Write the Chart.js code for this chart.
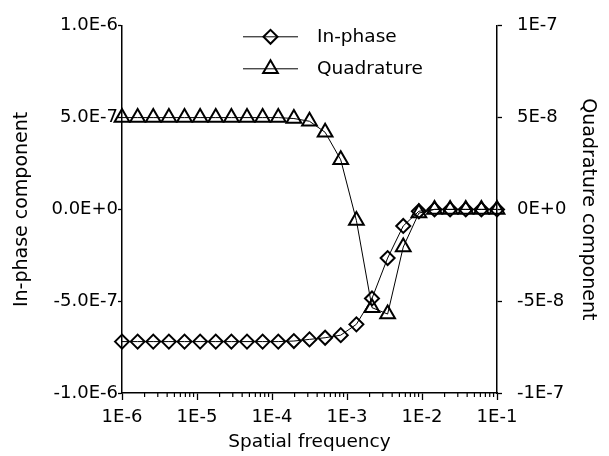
<!DOCTYPE html>
<html><head><meta charset="utf-8">
<script src="https://cdn.jsdelivr.net/npm/chart.js@4/dist/chart.umd.min.js"></script>
<style>html,body{margin:0;padding:0;background:#fff;}#wrap{width:609px;height:456px;}</style>
</head><body><div id="wrap"><canvas id="c" width="609" height="456"></canvas></div>
<script>
// ---- data ----
const frequency = [1.000e-6, 1.616e-6, 2.610e-6, 4.217e-6, 6.813e-6,
  1.101e-5, 1.778e-5, 2.873e-5, 4.642e-5, 7.499e-5,
  1.212e-4, 1.957e-4, 3.162e-4, 5.109e-4, 8.254e-4,
  1.334e-3, 2.154e-3, 3.481e-3, 5.623e-3, 9.085e-3,
  1.468e-2, 2.371e-2, 3.831e-2, 6.190e-2, 1.000e-1];
const inPhase = [-7.2e-7, -7.2e-7, -7.2e-7, -7.2e-7, -7.2e-7,
  -7.2e-7, -7.2e-7, -7.2e-7, -7.2e-7, -7.2e-7,
  -7.2e-7, -7.17e-7, -7.08e-7, -6.99e-7, -6.85e-7,
  -6.26e-7, -4.85e-7, -2.65e-7, -0.9e-7, -0.1e-7,
  0, 0, 0, 0, 0];
const quadrature = [5.0e-8, 5.0e-8, 5.0e-8, 5.0e-8, 5.0e-8,
  5.0e-8, 5.0e-8, 5.0e-8, 5.0e-8, 5.0e-8,
  5.0e-8, 4.95e-8, 4.8e-8, 4.2e-8, 2.7e-8,
  -0.6e-8, -5.35e-8, -5.7e-8, -2.05e-8, -0.2e-8,
  0, 0, 0, 0, 0];
const seriesNames = ["In-phase", "Quadrature"];
const xTickValues = [1e-6, 1e-5, 1e-4, 1e-3, 1e-2, 1e-1];
const xTickLabels = ["1E-6", "1E-5", "1E-4", "1E-3", "1E-2", "1E-1"];
const minorMultipliers = [2, 3, 4, 5, 6, 7, 8, 9];
const leftTickValues = [-1e-6, -5e-7, 0, 5e-7, 1e-6];
const leftTickLabels = ["-1.0E-6", "-5.0E-7", "0.0E+0", "5.0E-7", "1.0E-6"];
const rightTickValues = [-1e-7, -5e-8, 0, 5e-8, 1e-7];
const rightTickLabels = ["-1E-7", "-5E-8", "0E+0", "5E-8", "1E-7"];
const axisTitles = {x: "Spatial frequency", y: "In-phase component", y2: "Quadrature component"};

// ---- chart ----
const FONT = "'DejaVu Sans', sans-serif";
const INK = '#000';

const minorTicks = {
  id: 'minorTicks',
  afterDraw(chart) {
    const s = chart.scales.x, ctx = chart.ctx;
    ctx.save();
    ctx.strokeStyle = INK; ctx.lineWidth = 1.2;
    for (let k = 0; k < xTickValues.length - 1; k++) {
      minorMultipliers.forEach(m => {
        const px = s.getPixelForValue(xTickValues[k] * m);
        ctx.beginPath(); ctx.moveTo(px, s.top); ctx.lineTo(px, s.top + 4); ctx.stroke();
      });
    }
    ctx.restore();
  }
};

function drawMarker(ctx, style, r, x, y) {
  if (Chart.helpers && Chart.helpers.drawPoint) {
    Chart.helpers.drawPoint(ctx, {pointStyle: style, radius: r, rotation: 0, borderWidth: 2}, x, y);
    return;
  }
  ctx.beginPath();
  if (style === 'rectRot') {
    ctx.moveTo(x, y - r); ctx.lineTo(x + r, y); ctx.lineTo(x, y + r); ctx.lineTo(x - r, y); ctx.closePath();
  } else {
    ctx.moveTo(x, y - r); ctx.lineTo(x + r * 0.866, y + r / 2); ctx.lineTo(x - r * 0.866, y + r / 2); ctx.closePath();
  }
  ctx.stroke();
}

const lineLegend = {
  id: 'lineLegend',
  afterDraw(chart) {
    const ca = chart.chartArea, ctx = chart.ctx;
    ctx.save();
    chart.data.datasets.forEach((ds, i) => {
      const y = ca.top + 11 + i * 32;
      const x0 = ca.left + 121, x1 = x0 + 55, xm = (x0 + x1) / 2;
      ctx.strokeStyle = INK; ctx.lineWidth = 1;
      ctx.beginPath(); ctx.moveTo(x0, y); ctx.lineTo(x1, y); ctx.stroke();
      ctx.lineWidth = 2; ctx.fillStyle = 'rgba(0,0,0,0)';
      drawMarker(ctx, ds.pointStyle, ds.pointRadius, xm, y);
      ctx.fillStyle = INK;
      ctx.font = "18.5px " + FONT;
      ctx.textBaseline = 'middle'; ctx.textAlign = 'left';
      ctx.fillText(ds.label, x1 + 19, y);
    });
    ctx.restore();
  }
};

const tickFont = {family: FONT, size: 18};

new Chart(document.getElementById('c'), {
  type: 'line',
  data: {
    datasets: [
      {label: seriesNames[0], data: frequency.map((f, i) => ({x: f, y: inPhase[i]})), yAxisID: 'y',
       borderColor: INK, borderWidth: 1, pointStyle: 'rectRot', pointRadius: 7, pointBorderWidth: 2,
       pointBorderColor: INK, pointBackgroundColor: 'rgba(0,0,0,0)', tension: 0, clip: false},
      {label: seriesNames[1], data: frequency.map((f, i) => ({x: f, y: quadrature[i]})), yAxisID: 'y2',
       borderColor: INK, borderWidth: 1, pointStyle: 'triangle', pointRadius: 8.5, pointBorderWidth: 2,
       pointBorderColor: INK, pointBackgroundColor: 'rgba(0,0,0,0)', tension: 0, clip: false}
    ]
  },
  options: {
    responsive: false, animation: false, devicePixelRatio: 1,
    layout: {padding: {top: 20, left: 0, right: 0, bottom: 0}},
    plugins: {legend: {display: false}, tooltip: {enabled: false}},
    scales: {
      x: {
        type: 'logarithmic', position: 'bottom', min: 1e-6, max: 1e-1,
        afterBuildTicks: s => { s.ticks = xTickValues.map(v => ({value: v})); },
        afterFit: s => { s.height = 63; },
        ticks: {autoSkip: false, maxRotation: 0, padding: 7, color: INK, font: tickFont,
                callback: (v, i) => xTickLabels[i]},
        grid: {display: true, drawOnChartArea: false, drawTicks: true, tickLength: 7, tickColor: INK, tickWidth: 1.3},
        border: {display: true, color: INK, width: 1.5},
        title: {display: true, text: axisTitles.x, color: INK, font: {family: FONT, size: 18.5}, padding: {top: 0, bottom: 3}}
      },
      y: {
        type: 'linear', position: 'left', min: -1e-6, max: 1e-6,
        afterBuildTicks: s => { s.ticks = leftTickValues.map(v => ({value: v})); },
        afterFit: s => { s.width = 122; },
        ticks: {padding: 0, color: INK, font: tickFont, callback: (v, i) => leftTickLabels[i]},
        grid: {display: true, drawOnChartArea: false, drawTicks: true, tickLength: 4, tickColor: INK, tickWidth: 1.3},
        border: {display: true, color: INK, width: 1.5},
        title: {display: true, text: axisTitles.y, color: INK, font: {family: FONT, size: 19}, padding: {top: 11, bottom: 0}}
      },
      y2: {
        type: 'linear', position: 'right', min: -1e-7, max: 1e-7,
        afterBuildTicks: s => { s.ticks = rightTickValues.map(v => ({value: v})); },
        afterFit: s => { s.width = 112; },
        ticks: {padding: 15, color: INK, font: tickFont, callback: (v, i) => rightTickLabels[i]},
        grid: {display: true, drawOnChartArea: false, drawTicks: true, tickLength: 5, tickColor: INK, tickWidth: 1.3},
        border: {display: true, color: INK, width: 1.5},
        title: {display: true, text: axisTitles.y2, color: INK, font: {family: FONT, size: 19}, padding: {top: 10, bottom: 0}}
      }
    }
  },
  plugins: [minorTicks, lineLegend]
});
</script>
</body></html>
